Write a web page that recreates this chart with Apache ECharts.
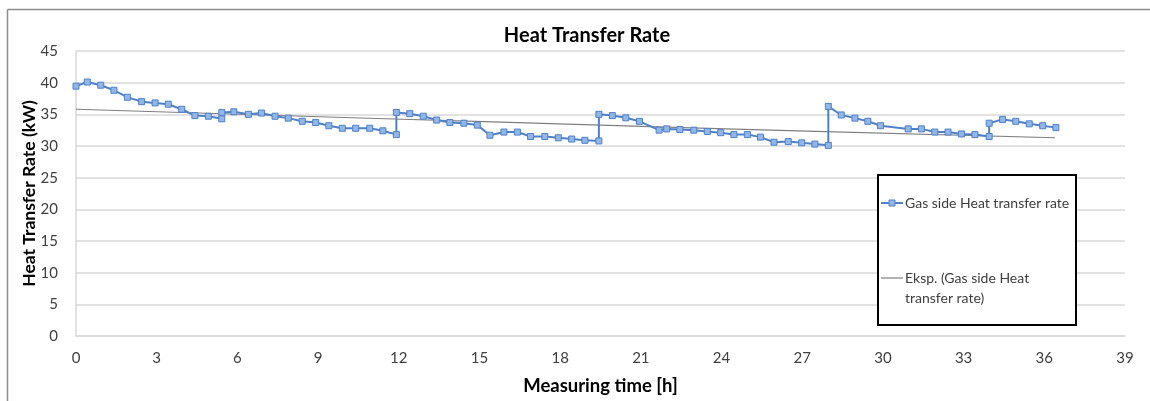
<!DOCTYPE html>
<html>
<head>
<meta charset="utf-8">
<script src="https://cdn.jsdelivr.net/npm/echarts@6/dist/echarts.min.js"></script>
<style>
html,body{margin:0;padding:0;background:#fff;}
#chart{width:1150px;height:401px;}
</style>
</head>
<body>
<div id="chart"></div>
<script>
// Measured time [h]
var timeH = [0,0.42,0.92,1.41,1.91,2.44,2.94,3.43,3.93,4.42,4.92,5.42,5.42,5.87,6.41,6.9,7.4,7.89,8.41,8.91,9.4,9.9,10.4,10.92,11.41,11.91,11.91,12.41,12.91,13.41,13.9,14.42,14.92,15.39,15.91,16.41,16.9,17.43,17.93,18.43,18.92,19.44,19.44,19.94,20.44,20.95,21.68,21.96,22.45,22.97,23.47,23.97,24.46,24.96,25.45,25.95,26.48,26.98,27.47,27.97,27.97,28.45,28.96,29.44,29.91,30.94,31.43,31.93,32.42,32.92,33.42,33.95,33.95,34.45,34.94,35.44,35.94,36.43];
// Gas side heat transfer rate [kW]
var gasRate = [39.45,40.1,39.6,38.8,37.7,37.0,36.8,36.6,35.8,34.8,34.7,34.3,35.3,35.4,35.0,35.2,34.7,34.4,33.9,33.7,33.2,32.8,32.8,32.8,32.4,31.8,35.3,35.1,34.7,34.1,33.7,33.6,33.3,31.7,32.2,32.2,31.5,31.5,31.3,31.1,30.9,30.8,35.0,34.8,34.45,33.9,32.5,32.7,32.6,32.5,32.3,32.1,31.8,31.8,31.4,30.6,30.7,30.5,30.3,30.1,36.25,34.9,34.4,33.9,33.2,32.7,32.7,32.2,32.2,31.9,31.8,31.5,33.6,34.2,33.9,33.5,33.2,32.9];
// Exponential trend line
var trendX = [0,11.5,19.5,27.5,36.4];
var trendY = [35.8,34.3,33.3,32.3,31.3];
// Axis ticks
var xTicks = [0,3,6,9,12,15,18,21,24,27,30,33,36,39];
var yTicks = [0,5,10,15,20,25,30,35,40,45];

var FONT = 'Lato, "Open Sans", sans-serif';
var chart = echarts.init(document.getElementById('chart'), null, {renderer:'canvas'});

function pairs(xs, ys){ return xs.map(function(x,i){ return [x, ys[i]]; }); }

var option = {
  backgroundColor:'#fff',
  animation:false,
  title:{
    text:'Heat Transfer Rate',
    left:582, top:21, textAlign:'center',
    textStyle:{fontFamily:FONT, fontSize:20, fontWeight:'bold', color:'#000'}
  },
  grid:{left:76, right:25, top:51, bottom:61, containLabel:false},
  xAxis:{
    type:'value', min:xTicks[0], max:xTicks[xTicks.length-1], interval:3,
    name:'Measuring time [h]', nameLocation:'middle', nameGap:41, nameMoveOverlap:false,
    nameTextStyle:{fontFamily:FONT, fontSize:18.5, fontWeight:'bold', color:'#000'},
    axisLine:{show:true, lineStyle:{color:'#d9d9d9', width:1.5}},
    axisTick:{show:false},
    axisLabel:{fontFamily:FONT, fontSize:15, color:'#404040', margin:15},
    splitLine:{show:false}
  },
  yAxis:{
    type:'value', min:yTicks[0], max:yTicks[yTicks.length-1], interval:5,
    name:'Heat Transfer Rate (kW)', nameLocation:'middle', nameGap:38, nameRotate:90, nameMoveOverlap:false,
    nameTextStyle:{fontFamily:FONT, fontSize:17.5, fontWeight:'bold', color:'#000'},
    axisLine:{show:true, lineStyle:{color:'#d9d9d9', width:1.5}},
    axisTick:{show:false},
    axisLabel:{fontFamily:FONT, fontSize:15, color:'#404040', margin:18},
    splitLine:{show:true, lineStyle:{color:'#d9d9d9', width:1.5}}
  },
  series:[
    {
      name:'Eksp. (Gas side Heat transfer rate)',
      type:'line', data:pairs(trendX, trendY), smooth:true,
      showSymbol:false, symbol:'none',
      lineStyle:{color:'#7f7f7f', width:1.2},
      z:3
    },
    {
      name:'Gas side Heat transfer rate',
      type:'line', data:pairs(timeH, gasRate),
      symbol:'rect', symbolSize:6, showAllSymbol:true,
      lineStyle:{color:'#4f81c9', width:2},
      itemStyle:{color:'#92b6e6', borderColor:'#4f81c9', borderWidth:1},
      z:4
    }
  ],
  graphic:[
    {type:'line', shape:{x1:7.5,y1:9.5,x2:1150,y2:9.5}, style:{stroke:'#8c8c8c', lineWidth:1.5}, silent:true},
    {type:'line', shape:{x1:7.5,y1:9.5,x2:7.5,y2:401}, style:{stroke:'#8c8c8c', lineWidth:1.5}, silent:true},
    {type:'rect', shape:{x:878,y:175,width:198,height:150}, style:{fill:'#fff', stroke:'#000', lineWidth:2}, z:10},
    {type:'line', shape:{x1:881,y1:203,x2:903,y2:203}, style:{stroke:'#4f81c9', lineWidth:2}, z:11},
    {type:'rect', shape:{x:889,y:200,width:6,height:6}, style:{fill:'#92b6e6', stroke:'#4f81c9', lineWidth:1}, z:12},
    {type:'text', x:905, y:203, style:{text:'Gas side Heat transfer rate', font:'14px '+FONT, fill:'#404040', textVerticalAlign:'middle'}, z:11},
    {type:'line', shape:{x1:881,y1:278,x2:903,y2:278}, style:{stroke:'#7f7f7f', lineWidth:1.2}, z:11},
    {type:'text', x:905, y:278, style:{text:'Eksp. (Gas side Heat', font:'14px '+FONT, fill:'#404040', textVerticalAlign:'middle'}, z:11},
    {type:'text', x:905, y:298, style:{text:'transfer rate)', font:'14px '+FONT, fill:'#404040', textVerticalAlign:'middle'}, z:11}
  ]
};
chart.setOption(option);
</script>
</body>
</html>
